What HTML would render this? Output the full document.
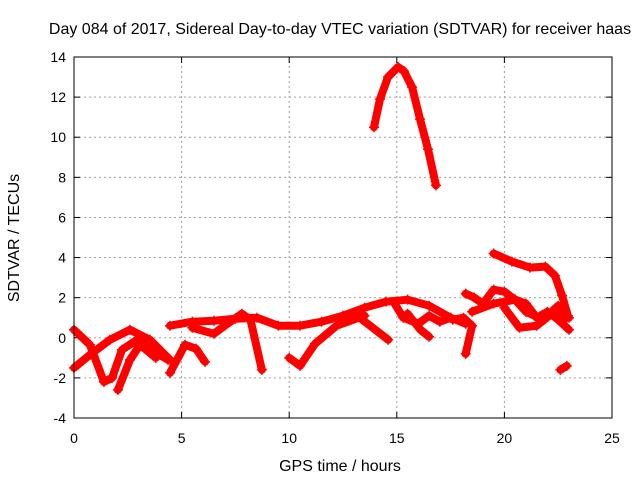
<!DOCTYPE html>
<html><head><meta charset="utf-8">
<style>
body{margin:0;background:#fff;}
svg{display:block;font-family:"Liberation Sans",sans-serif;}
</style></head>
<body>
<svg id="c" width="640" height="480">
<rect width="640" height="480" fill="#fff"/>
<text x="340" y="34" text-anchor="middle" font-size="16">Day 084 of 2017, Sidereal Day-to-day VTEC variation (SDTVAR) for receiver haas</text>
<text x="340" y="471" text-anchor="middle" font-size="16">GPS time / hours</text>
<text transform="translate(19,238) rotate(-90)" text-anchor="middle" font-size="16">SDTVAR / TECUs</text>
<g id="grid"></g><g id="ticks"></g><g id="marks"></g>
<rect x="74" y="57" width="538" height="361" fill="none" stroke="#000" stroke-width="1"/>
</svg>
<script>
const xTicks=[0,5,10,15,20,25];
const yTicks=[-4,-2,0,2,4,6,8,10,12,14];
const trackArc=[[13.94,10.5],[14.22,11.9],[14.59,13.0],[15.06,13.5],[15.33,13.3],[15.71,12.5],[16.08,10.9],[16.45,9.4],[16.82,7.6]];
const trackHigh=[[19.5,4.2],[20.35,3.8],[21.19,3.5],[21.9,3.55],[22.35,3.1],[22.68,2.1],[22.95,1.1]];
const trackSmall=[[22.6,-1.6],[22.9,-1.4]];
const trackA=[[0,0.4],[0.74,-0.35],[1.39,-2.2],[1.77,-2.0],[2.23,-0.6],[3.07,0],[4.0,-0.85],[4.37,-1.1]];
const trackB=[[0,-1.5],[0.74,-0.85],[1.67,-0.1],[2.6,0.4],[3.53,-0.1],[4.46,-1.1]];
const trackC=[[2.04,-2.6],[2.6,-1.1],[3.07,-0.35],[3.8,-1.0]];
const trackD=[[4.46,-1.75],[5.16,-0.35],[5.67,-0.55],[6.09,-1.2]];
const trackE=[[4.46,0.6],[5.5,0.8],[6.5,0.85],[7.5,0.95],[8.5,1.0],[9.5,0.6],[10.5,0.6],[11.5,0.8],[12.5,1.1],[13.5,1.5],[14.5,1.8],[15.5,1.9],[16.5,1.6],[17.5,1.0],[18.2,0.7]];
const trackF=[[5.5,0.5],[6.5,0.2],[7,0.6],[7.8,1.2],[8.2,0.9],[8.73,-1.6]];
const trackG=[[10.0,-1.0],[10.5,-1.4],[11.2,-0.3],[12.2,0.6],[13.5,1.1]];
const trackH=[[13.4,0.9],[14.6,-0.1]];
const trackI=[[14.9,1.7],[15.3,1.0],[16.0,0.7],[16.5,1.1],[17.0,0.8],[17.5,1.0]];
const trackI2=[[15.5,1.2],[16.1,0.4],[16.5,0.05]];
const trackJ=[[18.2,2.2],[18.6,2.0],[19,1.7],[19.5,2.4],[20,2.3],[20.5,1.9],[21,1.7],[21.5,1.0],[22,1.3],[22.5,0.9],[23,0.4]];
const trackK=[[18.5,1.3],[19.5,1.7],[20.5,1.9],[21,1.3],[21.8,0.9],[22.5,1.6],[22.9,1.0]];
const trackL=[[20,1.5],[20.7,0.5],[21.5,0.6],[22.2,1.2],[23,1.0]];
const trackM=[[18.2,-0.8],[18.5,0.6],[18.1,1.0],[17.6,0.9]];
const tracks=[trackArc,trackHigh,trackSmall,trackA,trackB,trackC,trackD,trackE,trackF,trackG,trackH,trackI,trackI2,trackJ,trackK,trackL,trackM];

const NS="http://www.w3.org/2000/svg";
const X0=74,X1=612,Y0=418,Y1=57,xmin=0,xmax=25,ymin=-4,ymax=14;
const sx=v=>X0+(v-xmin)/(xmax-xmin)*(X1-X0);
const sy=v=>Y0-(v-ymin)/(ymax-ymin)*(Y0-Y1);
function mk(t,a,p){const e=document.createElementNS(NS,t);for(const k in a)e.setAttribute(k,a[k]);p.appendChild(e);return e;}
const grid=document.getElementById('grid'),ticks=document.getElementById('ticks'),marks=document.getElementById('marks');
xTicks.forEach(v=>{
  const x=sx(v);
  if(v>xmin&&v<xmax){const g=mk('line',{x1:x,x2:x,y1:Y0,y2:Y1,stroke:'#a0a0a0','stroke-dasharray':'2,3'},grid);
  
  }
  mk('line',{x1:x,x2:x,y1:Y0,y2:Y0-6,stroke:'#000'},ticks);
  mk('line',{x1:x,x2:x,y1:Y1,y2:Y1+6,stroke:'#000'},ticks);
  const t=mk('text',{x:x,y:Y0+25,'text-anchor':'middle','font-size':'14'},ticks);t.textContent=v;
  
  
});
yTicks.forEach(v=>{
  const y=sy(v);
  if(v>ymin&&v<ymax){const g=mk('line',{x1:X0,x2:X1,y1:y,y2:y,stroke:'#a0a0a0','stroke-dasharray':'2,3'},grid);
  
  }
  mk('line',{x1:X0,x2:X0+6,y1:y,y2:y,stroke:'#000'},ticks);
  mk('line',{x1:X1,x2:X1-6,y1:y,y2:y,stroke:'#000'},ticks);
  const t=mk('text',{x:X0-8,y:y+5,'text-anchor':'end','font-size':'14'},ticks);t.textContent=v;
  
  
});
tracks.forEach((tr,i)=>{
  const pts=tr.map(p=>sx(p[0])+','+sy(p[1])).join(' ');
  const pl=mk('polyline',{points:pts,fill:'none',stroke:'#ff0000','stroke-width':8,'stroke-linejoin':'round','stroke-linecap':'round'},marks);
  
  
  tr.forEach(p=>{
    const x=sx(p[0]),y=sy(p[1]);
    const m=mk('path',{d:`M${x-5},${y}H${x+5}M${x},${y-5}V${y+5}`,stroke:'#ff0000','stroke-width':1.5},marks);
    
    
  });
});
</script>
</body></html>
